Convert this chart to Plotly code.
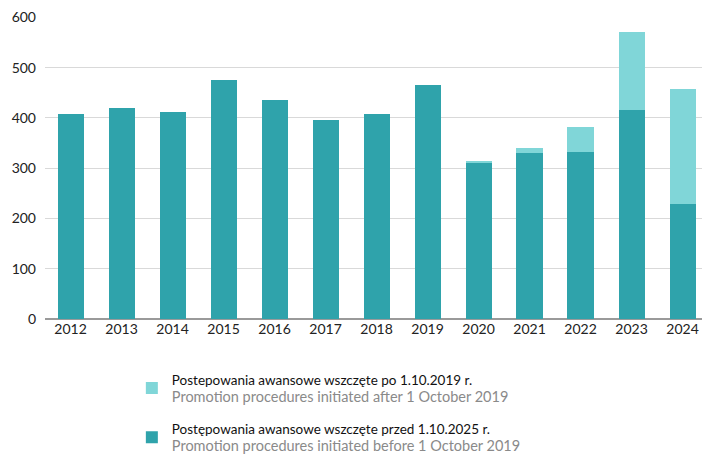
import plotly.graph_objects as go

years = ["2012", "2013", "2014", "2015", "2016", "2017", "2018",
         "2019", "2020", "2021", "2022", "2023", "2024"]
before_2019 = [407, 419, 411, 476, 435, 396, 407, 465, 311, 331, 332, 416, 229]
after_2019 = [0, 0, 0, 0, 0, 0, 0, 0, 4, 9, 49, 154, 228]
y_ticks = [0, 100, 200, 300, 400, 500, 600]

gray = "<span style='color:#8a8a8a;font-size:14.5px'>{}</span>"
name_after = ("Postepowania awansowe wszczęte po 1.10.2019 r.<br>"
              + gray.format("Promotion procedures initiated after 1 October 2019"))
name_before = ("Postępowania awansowe wszczęte przed 1.10.2025 r.<br>"
               + gray.format("Promotion procedures initiated before 1 October 2019"))

fig = go.Figure()
fig.add_trace(go.Bar(x=years, y=before_2019, name=name_before, legendgroup="b",
                     legendrank=2,
                     marker=dict(color="#2fa3ab", line=dict(width=0))))
fig.add_trace(go.Bar(x=years, y=after_2019, name=name_after, legendgroup="a",
                     legendrank=1,
                     marker=dict(color="#80d6d8", line=dict(width=0))))

fig.update_layout(
    width=702, height=446,
    barmode="stack", bargap=0.49,
    plot_bgcolor="white", paper_bgcolor="white",
    margin=dict(l=37, r=2, t=9, b=135, autoexpand=False),
    font=dict(family="Lato", size=14, color="#222"),
    showlegend=True,
    legend=dict(traceorder="grouped", orientation="v",
                x=0.131, xanchor="left", y=-0.149, yanchor="top",
                font=dict(family="Lato", size=13.5, color="#111"), tracegroupgap=11,
                itemwidth=30, bgcolor="rgba(0,0,0,0)"),
    xaxis=dict(showgrid=False, ticks="", tickfont=dict(size=14),
               showline=False, automargin=False),
    yaxis=dict(range=[0, 600.8], tickvals=y_ticks, showgrid=True,
               gridcolor="#d9d9d9", gridwidth=1, zeroline=True,
               zerolinecolor="#9a9a9a", zerolinewidth=1.5, automargin=False,
               ticklabeloverflow="allow",
               tickfont=dict(size=14), ticks="", ticklabelstandoff=8),
)

fig.write_html("out.html")
